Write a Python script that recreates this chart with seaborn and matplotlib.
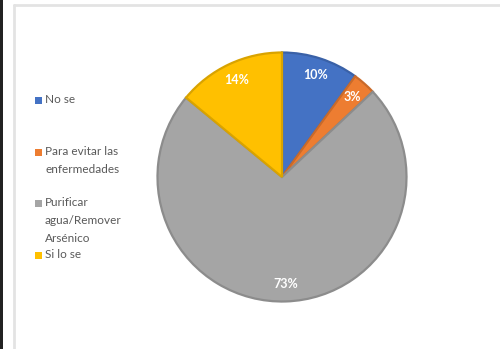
import matplotlib
matplotlib.use("Agg")
import matplotlib.pyplot as plt
from matplotlib.patches import Rectangle
from matplotlib.lines import Line2D
from matplotlib.colors import to_rgb
import seaborn as sns

# Survey answers and their shares (%)
categories = ["No se", "Para evitar las\nenfermedades", "Purificar\nagua/Remover\nArsénico", "Si lo se"]
shares = [10, 3, 73, 14]
colors = ["#4472C4", "#ED7D31", "#A5A5A5", "#FFC000"]

sns.set_theme(style="white")
plt.rcParams["font.family"] = ["Lato", "DejaVu Sans"]

W, H = 500, 349
fig = plt.figure(figsize=(W / 100, H / 100), dpi=100)
fig.patch.set_facecolor("white")

palette = sns.color_palette(colors)

# Pie area
cx, cy, r = 282, 177, 127
ax = fig.add_axes([(cx - r) / W, (H - cy - r) / H, 2 * r / W, 2 * r / H])
wedges, texts, autotexts = ax.pie(
    shares,
    colors=palette,
    startangle=90,
    counterclock=False,
    autopct=lambda p: f"{p:.0f}%",
    pctdistance=0.86,
    textprops=dict(color="white", fontsize=9, fontweight="bold"),
    wedgeprops=dict(linewidth=1.6),
)
for w, c in zip(wedges, palette):
    rr, gg, bb = to_rgb(c)
    w.set_edgecolor((rr * 0.85, gg * 0.85, bb * 0.85))
ax.set_xlim(-1.02, 1.02)
ax.set_ylim(-1.02, 1.02)
ax.set_aspect("equal")
ax.axis("off")

# Legend: one slot per category, stacked top-down
slot_centers = [100, 152, 203, 255]
for cat, c, y in zip(categories, palette, slot_centers):
    fig.patches.append(Rectangle((35 / W, (H - y - 3.5) / H), 7 / W, 7 / H,
                                 transform=fig.transFigure, facecolor=c,
                                 edgecolor="none"))
    fig.text(45 / W, (H - y + 6) / H, cat, fontsize=8.5, color="#595959",
             va="top", ha="left", linespacing=1.75,
             transform=fig.transFigure)

# Chart frame and the dark strip on the left edge
fig.add_artist(Line2D([14 / W, 14 / W], [0, (H - 5) / H], color="#e3e3e3",
                      linewidth=2, transform=fig.transFigure))
fig.add_artist(Line2D([14 / W, 1], [(H - 5) / H, (H - 5) / H], color="#e3e3e3",
                      linewidth=2, transform=fig.transFigure))
fig.patches.append(Rectangle((0, 0), 2.5 / W, 1, transform=fig.transFigure,
                             facecolor="#222222", edgecolor="none"))

fig.savefig("out.png", dpi=100)
